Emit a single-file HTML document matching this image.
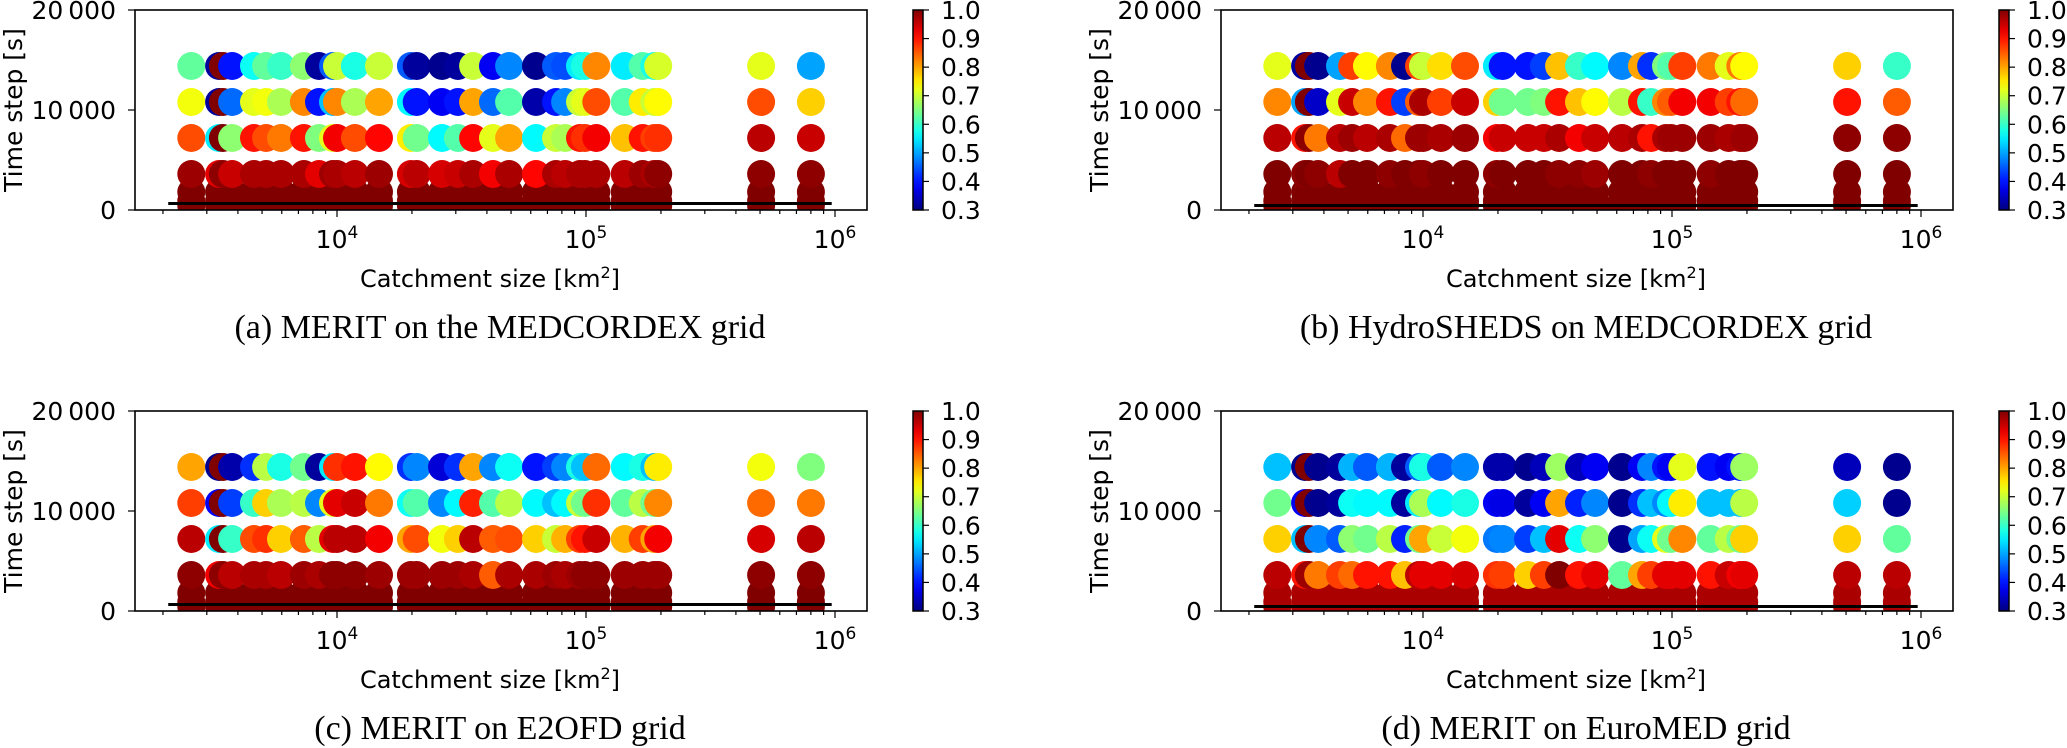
<!DOCTYPE html>
<html><head><meta charset="utf-8"><style>
html,body{margin:0;padding:0;background:#fff;}
svg{display:block;}
</style></head><body>
<svg id="fig" width="2067" height="748" viewBox="0 0 2067 748" xmlns="http://www.w3.org/2000/svg"></svg>
<script>
// ---- data ----
const catchments = [2600,3360,3480,3790,4640,5190,5960,7360,8470,9640,10000,11800,14750,19800,20900,26400,30600,35200,42300,49100,63000,75800,82400,94600,99000,110000,143000,169000,188000,195000,505000,800000];
const timeSteps = [14400,10800,7200,3600];
const lowTimeSteps = [1800,900,450];
const xTickExps = [4,5,6];
const yTicks = [0,10000,20000];
const yTickLabels = ['0','10\u2009000','20\u2009000'];
const cbTicks = [0.3,0.4,0.5,0.6,0.7,0.8,0.9,1.0];
const captions = ['(a) MERIT on the MEDCORDEX grid','(b) HydroSHEDS on MEDCORDEX grid','(c) MERIT on E2OFD grid','(d) MERIT on EuroMED grid'];
const refLineValues = [650,450,650,450];
const refLineStart = 2100, refLineEnd = 970000;
const lowRowValues = [1.0,1.0,1.0,0.97];

const a14400 = [0.63,0.32,1.0,0.4,0.57,0.63,0.6,0.66,0.32,0.45,0.7,0.58,0.7,0.45,0.32,0.31,0.32,0.7,0.38,0.48,0.31,0.45,0.44,0.55,0.58,0.82,0.55,0.62,0.58,0.71,0.72,0.5];
const a10800 = [0.73,0.32,1.0,0.46,0.72,0.73,0.68,0.82,0.4,0.52,0.82,0.68,0.8,0.56,0.4,0.38,0.4,0.8,0.46,0.62,0.33,0.4,0.48,0.7,0.72,0.86,0.62,0.75,0.7,0.74,0.86,0.77];
const a7200 = [0.86,0.55,1.0,0.66,0.9,0.86,0.83,0.9,0.65,0.72,0.92,0.86,0.91,0.75,0.64,0.56,0.62,0.91,0.72,0.8,0.56,0.7,0.68,0.9,0.88,0.92,0.78,0.9,0.87,0.88,0.96,0.95];
const a3600 = [0.98,0.93,0.99,0.95,0.97,0.97,0.97,0.97,0.93,0.98,0.97,0.96,0.98,0.94,0.96,0.94,0.95,0.97,0.92,0.97,0.91,0.97,0.96,0.97,0.97,0.97,0.96,0.98,0.97,0.99,0.99,0.99];

const b14400 = [0.72,0.32,1.0,0.31,0.5,0.87,0.74,0.82,0.31,0.87,0.7,0.76,0.86,0.55,0.4,0.4,0.43,0.78,0.6,0.56,0.48,0.8,0.42,0.65,0.62,0.87,0.83,0.72,0.83,0.74,0.77,0.6];
const b10800 = [0.82,0.5,1.0,0.35,0.72,0.95,0.82,0.9,0.43,0.85,0.97,0.87,0.95,0.77,0.64,0.64,0.65,0.9,0.78,0.74,0.69,0.9,0.6,0.82,0.85,0.92,0.92,0.87,0.9,0.84,0.9,0.85];
const b7200 = [0.96,0.9,0.99,0.83,0.96,0.98,0.96,0.97,0.84,0.98,0.98,0.97,0.98,0.92,0.95,0.95,0.95,0.97,0.92,0.95,0.96,0.97,0.9,0.97,0.98,0.98,0.98,0.97,0.97,0.98,0.99,0.99];
const b3600 = [1.0,0.99,1.0,0.99,0.96,1.0,1.0,0.99,1.0,1.0,0.99,1.0,1.0,0.99,1.0,1.0,1.0,0.99,0.99,0.98,1.0,1.0,0.99,1.0,1.0,1.0,0.99,1.0,1.0,1.0,1.0,1.0];

const c14400 = [0.8,0.31,1.0,0.33,0.42,0.69,0.58,0.64,0.32,0.55,0.88,0.9,0.74,0.42,0.48,0.36,0.42,0.8,0.48,0.57,0.4,0.43,0.48,0.58,0.52,0.84,0.56,0.58,0.52,0.75,0.73,0.65];
const c10800 = [0.87,0.38,1.0,0.43,0.6,0.77,0.68,0.69,0.48,0.72,0.93,0.95,0.83,0.57,0.62,0.48,0.56,0.89,0.62,0.69,0.56,0.52,0.56,0.7,0.64,0.88,0.63,0.69,0.64,0.82,0.84,0.83];
const c7200 = [0.96,0.55,1.0,0.6,0.86,0.88,0.77,0.85,0.69,0.93,0.96,0.96,0.92,0.8,0.86,0.73,0.77,0.96,0.85,0.86,0.77,0.7,0.79,0.87,0.9,0.95,0.79,0.87,0.8,0.92,0.94,0.96];
const c3600 = [0.99,0.92,0.99,0.96,0.97,0.97,0.96,0.98,0.97,0.99,0.99,0.99,0.98,0.98,0.98,0.98,0.98,0.97,0.85,0.97,0.97,0.98,0.97,0.98,0.99,0.99,0.98,0.98,0.98,0.98,0.99,0.99];

const d14400 = [0.52,0.31,1.0,0.31,0.32,0.51,0.45,0.51,0.32,0.45,0.58,0.45,0.48,0.33,0.33,0.31,0.34,0.67,0.34,0.38,0.31,0.38,0.48,0.4,0.38,0.72,0.4,0.38,0.4,0.67,0.34,0.31];
const d10800 = [0.64,0.38,1.0,0.31,0.32,0.57,0.56,0.56,0.32,0.55,0.68,0.56,0.58,0.38,0.37,0.32,0.38,0.8,0.41,0.48,0.31,0.42,0.52,0.48,0.56,0.75,0.52,0.52,0.52,0.69,0.53,0.31];
const d7200 = [0.77,0.52,1.0,0.48,0.45,0.66,0.64,0.69,0.41,0.64,0.8,0.7,0.73,0.47,0.48,0.43,0.52,0.93,0.57,0.66,0.31,0.5,0.57,0.72,0.64,0.82,0.63,0.69,0.64,0.77,0.77,0.63];
const d3600 = [0.96,0.9,0.98,0.83,0.87,0.84,0.9,0.9,0.78,0.96,0.93,0.93,0.94,0.88,0.87,0.77,0.87,1.0,0.9,0.93,0.63,0.8,0.87,0.93,0.93,0.93,0.9,0.95,0.92,0.93,0.96,0.96];

const panelRows = [[a14400,a10800,a7200,a3600],[b14400,b10800,b7200,b3600],[c14400,c10800,c7200,c3600],[d14400,d10800,d7200,d3600]];

// ---- layout ----
const NS = 'http://www.w3.org/2000/svg';
const svg = document.getElementById('fig');
const offX = [0,1086,0,1086], offY = [0,0,401,401];
const L=135, R=867, T=10, B=210, R_MARK=14;
const vmin=0.3, vmax=1.0;
function xScale(a){ return 337 + 249*(Math.log10(a)-4); }
function yScale(t){ return B - (t/20000)*(B-T); }
function clamp(v){ return Math.max(0,Math.min(1,v)); }
function jet(v){
  const t = clamp((v-vmin)/(vmax-vmin));
  const r = clamp(1.5-Math.abs(4*t-3)), g = clamp(1.5-Math.abs(4*t-2)), b = clamp(1.5-Math.abs(4*t-1));
  return 'rgb('+Math.round(r*255)+','+Math.round(g*255)+','+Math.round(b*255)+')';
}
function el(tag, attrs, parent){
  const e = document.createElementNS(NS, tag);
  for (const k in attrs) e.setAttribute(k, attrs[k]);
  (parent||svg).appendChild(e);
  return e;
}
const FONT = '"DejaVu Sans","Liberation Sans",sans-serif';

const defs = el('defs',{});
const grad = el('linearGradient',{id:'jetgrad',x1:'0',y1:'1',x2:'0',y2:'0'},defs);
for (let i=0;i<=20;i++){
  const v = vmin + (vmax-vmin)*i/20;
  el('stop',{offset:(i*5)+'%','stop-color':jet(v)},grad);
}

for (let p=0;p<4;p++){
  const g = el('g',{transform:'translate('+offX[p]+','+offY[p]+')'});
  
  
  const clip = el('clipPath',{id:'clip'+p},defs);
  el('rect',{x:L,y:T,width:R-L,height:B-T},clip);
  const marks = el('g',{'clip-path':'url(#clip'+p+')'},g);
  
  
  // low rows first (bottom), then upper rows
  const allRows = [];
  for (let r=lowTimeSteps.length-1;r>=0;r--) allRows.push({t:lowTimeSteps[r], vals:catchments.map(()=>lowRowValues[p])});
  for (let r=timeSteps.length-1;r>=0;r--) allRows.push({t:timeSteps[r], vals:panelRows[p][r]});
  allRows.forEach(row=>{
    catchments.forEach((a,i)=>{
      const c = el('circle',{cx:xScale(a).toFixed(1),cy:yScale(row.t).toFixed(1),r:R_MARK,fill:jet(row.vals[i])},marks);
      
      
    });
  });
  // reference line
  const ln = el('line',{x1:xScale(refLineStart),x2:xScale(refLineEnd),y1:yScale(refLineValues[p]),y2:yScale(refLineValues[p]),stroke:'#000','stroke-width':3},g);
  
  
  // axes frame
  const fr = el('rect',{x:L,y:T,width:R-L,height:B-T,fill:'none',stroke:'#000','stroke-width':1.6},g);
  
  
  // x ticks
  for (let e=3;e<=5;e++){
    for (let m=1;m<=9;m++){
      const v = m*Math.pow(10,e);
      if (v<2000) continue;
      const x = xScale(v);
      if (x>R) continue;
      el('line',{x1:x,x2:x,y1:B,y2:B+(m===1?7:4),stroke:'#000','stroke-width':1.2},g);
    }
  }
  el('line',{x1:xScale(1e6),x2:xScale(1e6),y1:B,y2:B+7,stroke:'#000','stroke-width':1.2},g);
  xTickExps.forEach(e=>{
    const t = el('text',{x:xScale(Math.pow(10,e)),y:248,'text-anchor':'middle','font-size':25,'font-family':FONT},g);
    
    
    t.appendChild(document.createTextNode('10'));
    const s = el('tspan',{'font-size':17,dy:-10},t);
    s.textContent = String(e);
  });
  // y ticks
  yTicks.forEach((v,i)=>{
    const y = yScale(v);
    el('line',{x1:L-7,x2:L,y1:y,y2:y,stroke:'#000','stroke-width':1.2},g);
    const t = el('text',{x:L-19,y:y+9,'text-anchor':'end','font-size':25,'font-family':FONT},g);
    
    
    t.textContent = yTickLabels[i];
  });
  const xl = el('text',{x:490,y:287,'text-anchor':'middle','font-size':24,'font-family':FONT},g);
  
  
  xl.appendChild(document.createTextNode('Catchment size  [km'));
  const sup = el('tspan',{'font-size':16,dy:-9},xl); sup.textContent='2';
  const cl = el('tspan',{dy:9},xl); cl.textContent=']';
  const yl = el('text',{x:0,y:0,'text-anchor':'middle','font-size':25,'font-family':FONT,transform:'translate(22,110) rotate(-90)'},g);
  
  
  yl.textContent = 'Time step [s]';
  // colorbar
  const cb = el('rect',{x:913,y:T,width:10,height:B-T,fill:'url(#jetgrad)',stroke:'#000','stroke-width':1.5},g);
  
  
  cbTicks.forEach(v=>{
    const y = B - (v-vmin)/(vmax-vmin)*(B-T);
    el('line',{x1:923,x2:929,y1:y,y2:y,stroke:'#000','stroke-width':1.2},g);
    const t = el('text',{x:941,y:y+9,'font-size':25,'font-family':FONT},g);
    
    
    t.textContent = v.toFixed(1);
  });
  const cap = el('text',{x:500,y:338,'text-anchor':'middle','font-size':34,'font-family':'"Liberation Serif",serif'},g);
  
  
  cap.textContent = captions[p];
}
</script>
</body></html>
